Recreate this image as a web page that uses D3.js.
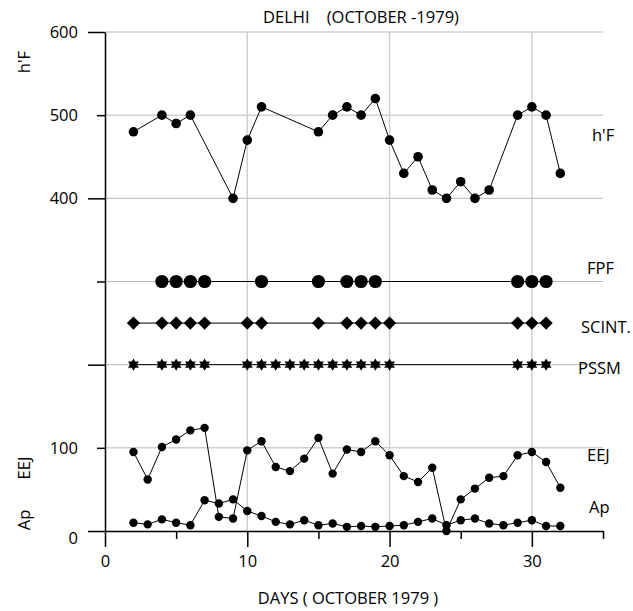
<!DOCTYPE html>
<html>
<head>
<meta charset="utf-8">
<script src="https://cdn.jsdelivr.net/npm/d3@7"></script>
<style>
  body { margin: 0; background: #fff; }
  text { font-family: "Open Sans", "DejaVu Sans", sans-serif; fill: #000; }
</style>
</head>
<body>
<script>
// DELHI october 1979 - h'F, FPF, SCINT, PSSM, EEJ, Ap

var hfDays = [2,4,5,6,9,10,11,15,16,17,18,19,20,21,22,23,24,25,26,27,29,30,31,32];
var hfValues = [480,500,490,500,400,470,510,480,500,510,500,520,470,430,450,410,400,420,400,410,500,510,500,430];

var fpfDays = [4,5,6,7,11,15,17,18,19,29,30,31];
var fpfLevel = 300;
var scintDays = [2,4,5,6,7,10,11,15,17,18,19,20,29,30,31];
var scintLevel = 250;
var pssmDays = [2,4,5,6,7,10,11,12,13,14,15,16,17,18,19,20,29,30,31];
var pssmLevel = 200;

var days = [2,3,4,5,6,7,8,9,10,11,12,13,14,15,16,17,18,19,20,21,22,23,24,25,26,27,28,29,30,31,32];
var eejValues = [95,62,101,110,121,124,17,15,97,108,77,72,87,112,69,98,95,108,91,66,59,76,0,38,51,64,66,91,95,83,52];
var apValues = [10,8,14,10,7,37,33,38,24,18,11,8,13,7,9,5,6,5,6,7,11,15,7,13,15,9,7,10,13,6,6];

var xMajor = [0,10,20,30];
var xMinor = [5,15,25,35];
var yMajor = [0,200,400,600];
var yMinor = [100,300,500];
var yLabelled = [0,100,400,500,600];

var W = 633, H = 611;
var fs = "16.5px";

var svg = d3.select("body").append("svg")
  .attr("width", W)
  .attr("height", H);

var x = d3.scaleLinear().domain([0, 35]).range([105, 603]);
var y = d3.scaleLinear().domain([0, 600]).range([531, 32]);

// grid
svg.append("g")
  .selectAll("line.hg")
  .data(d3.range(100, 601, 100))
  .enter().append("line")
  .attr("x1", x(0)).attr("x2", x(35))
  .attr("y1", d => y(d)).attr("y2", d => y(d))
  .attr("stroke", "#b8b8b8").attr("stroke-width", 1);

svg.append("g")
  .selectAll("line.vg")
  .data([10, 20, 30])
  .enter().append("line")
  .attr("x1", d => x(d)).attr("x2", d => x(d))
  .attr("y1", y(600)).attr("y2", y(0))
  .attr("stroke", "#cfcfcf").attr("stroke-width", 1.5);

// x axis
svg.append("g")
  .attr("transform", "translate(0," + y(0) + ")")
  .call(d3.axisBottom(x).tickValues(xMajor).tickSize(16).tickSizeOuter(0).tickPadding(8))
  .call(g => g.select(".domain").attr("stroke-width", 1.5))
  .call(g => g.selectAll(".tick line").attr("stroke-width", 1.5));
svg.append("g")
  .attr("transform", "translate(0," + y(0) + ")")
  .call(d3.axisBottom(x).tickValues(xMinor).tickSize(8).tickFormat(""))
  .call(g => g.select(".domain").remove())
  .call(g => g.selectAll(".tick line").attr("stroke-width", 1.5));

// y axis
svg.append("g")
  .attr("transform", "translate(" + x(0) + ",0)")
  .call(d3.axisLeft(y).tickValues(yMajor).tickSize(17).tickSizeOuter(0).tickFormat(""))
  .call(g => g.select(".domain").attr("stroke-width", 1.5))
  .call(g => g.selectAll(".tick line").attr("stroke-width", 1.5));
svg.append("g")
  .attr("transform", "translate(" + x(0) + ",0)")
  .call(d3.axisLeft(y).tickValues(yMinor).tickSize(8).tickFormat(""))
  .call(g => g.select(".domain").remove())
  .call(g => g.selectAll(".tick line").attr("stroke-width", 1.5));
svg.append("g")
  .attr("transform", "translate(" + x(0) + ",0)")
  .call(d3.axisLeft(y).tickValues(yLabelled).tickSize(0).tickPadding(27))
  .call(g => g.select(".domain").remove())
  .call(g => g.selectAll(".tick text").filter(d => d === 0).attr("dy", "0.75em"));

svg.selectAll(".tick text").style("font-size", fs).style("font-family", "'Open Sans', sans-serif");

// lines
var line = d3.line().x(d => x(d[0])).y(d => y(d[1]));

function series(pts, r) {
  svg.append("path").datum(pts)
    .attr("d", line).attr("fill", "none").attr("stroke", "#000").attr("stroke-width", 1);
  svg.append("g").selectAll("circle").data(pts).enter().append("circle")
    .attr("cx", d => x(d[0])).attr("cy", d => y(d[1])).attr("r", r).attr("fill", "#000");
}

series(hfDays.map((d, i) => [d, hfValues[i]]), 4.8);
series(days.map((d, i) => [d, apValues[i]]), 4.2);
series(days.map((d, i) => [d, eejValues[i]]), 4.2);

// level rows
function row(ds, level, sym) {
  var pts = ds.map(d => [d, level]);
  svg.append("path").datum(pts)
    .attr("d", line).attr("fill", "none").attr("stroke", "#000").attr("stroke-width", 1);
  svg.append("g").selectAll("path").data(pts).enter().append("path")
    .attr("transform", d => "translate(" + x(d[0]) + "," + y(d[1]) + ")")
    .attr("d", sym).attr("fill", "#000");
}

var hexagram = {
  draw: function(ctx, size) {
    var r = Math.sqrt(size);
    for (var t = 0; t < 2; t++) {
      var a0 = t === 0 ? -Math.PI / 2 : Math.PI / 2;
      for (var k = 0; k < 3; k++) {
        var a = a0 + k * 2 * Math.PI / 3;
        if (k === 0) ctx.moveTo(r * Math.cos(a), r * Math.sin(a));
        else ctx.lineTo(r * Math.cos(a), r * Math.sin(a));
      }
      ctx.closePath();
    }
  }
};

var diamond = {
  draw: function(ctx, size) {
    var r = Math.sqrt(size);
    ctx.moveTo(0, -r); ctx.lineTo(r, 0); ctx.lineTo(0, r); ctx.lineTo(-r, 0); ctx.closePath();
  }
};

row(fpfDays, fpfLevel, d3.symbol().type(d3.symbolCircle).size(Math.PI * 6.6 * 6.6));
row(scintDays, scintLevel, d3.symbol().type(diamond).size(6.6 * 6.6));
row(pssmDays, pssmLevel, d3.symbol().type(hexagram).size(6.2 * 6.2));

// texts
svg.append("text").attr("x", 361).attr("y", 17).attr("dy", "0.35em")
  .attr("text-anchor", "middle").style("font-size", fs).style("white-space", "pre")
  .text("DELHI    (OCTOBER -1979)");

svg.append("text").attr("x", 348).attr("y", 598).attr("dy", "0.35em")
  .attr("text-anchor", "middle").style("font-size", fs)
  .text("DAYS ( OCTOBER 1979 )");

var rightLabels = [
  {t: "h'F", x: 592, y: 135},
  {t: "FPF", x: 587, y: 268},
  {t: "SCINT.", x: 581, y: 327},
  {t: "PSSM", x: 578, y: 368},
  {t: "EEJ", x: 587, y: 455},
  {t: "Ap", x: 589, y: 507}
];
svg.append("g").selectAll("text").data(rightLabels).enter().append("text")
  .attr("x", d => d.x).attr("y", d => d.y).attr("dy", "0.35em")
  .style("font-size", fs).text(d => d.t);

var leftLabels = [
  {t: "h'F", y: 62},
  {t: "EEJ", y: 468},
  {t: "Ap", y: 520}
];
svg.append("g").selectAll("text").data(leftLabels).enter().append("text")
  .attr("transform", d => "translate(24," + d.y + ") rotate(-90)")
  .attr("text-anchor", "middle").attr("dy", "0.35em")
  .style("font-size", fs).text(d => d.t);
</script>
</body>
</html>
